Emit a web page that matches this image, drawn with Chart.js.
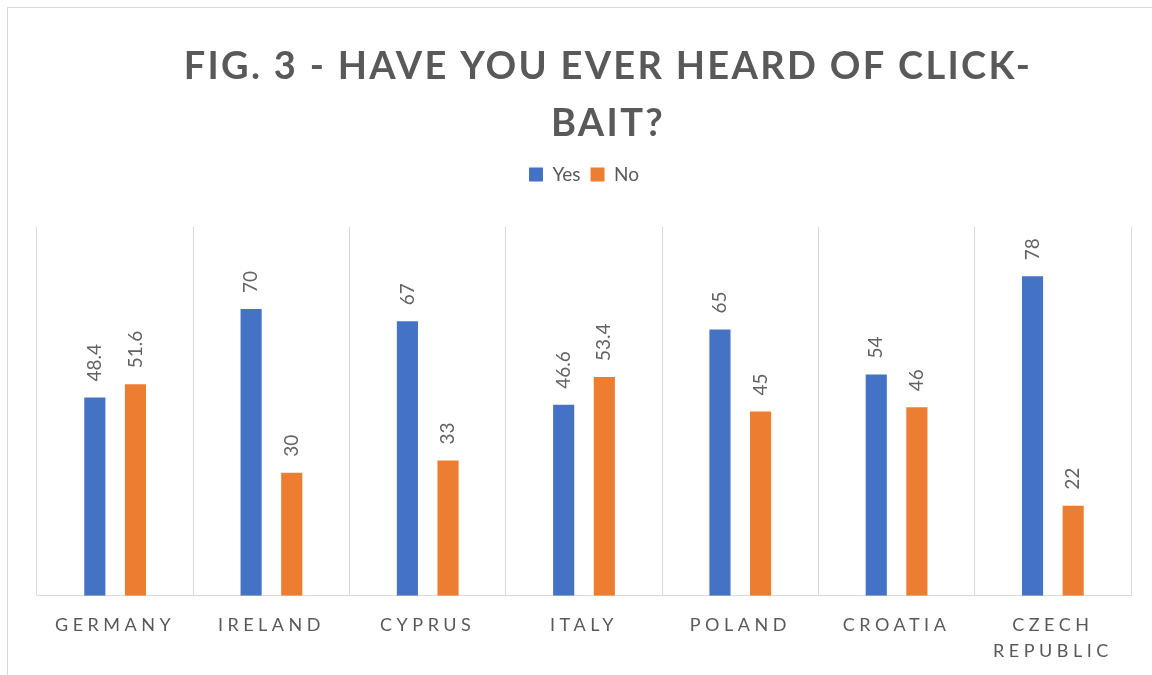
<!DOCTYPE html>
<html>
<head>
<meta charset="utf-8">
<script src="https://cdn.jsdelivr.net/npm/chart.js@4"></script>
<style>
  html, body { margin: 0; padding: 0; background: #fff; overflow: hidden; }
  #frame { position: absolute; left: 7px; top: 7px; width: 1200px; height: 720px; border-top: 1px solid #d9d9d9; border-left: 1px solid #d9d9d9; }
  #wrap { position: absolute; left: 0; top: 0; width: 1152px; height: 675px; }
</style>
</head>
<body>
<div id="frame"></div>
<div id="wrap"><canvas id="chart"></canvas></div>
<script>
// Dados do gráfico
const countries = ['GERMANY', 'IRELAND', 'CYPRUS', 'ITALY', 'POLAND', 'CROATIA', ['CZECH', 'REPUBLIC']];
const yesValues = [48.4, 70, 67, 46.6, 65, 54, 78];
const noValues = [51.6, 30, 33, 53.4, 45, 46, 22];
const titleLines = ['FIG. 3 - HAVE YOU EVER HEARD OF CLICK-', 'BAIT?'];

const textGray = '#595959';
const gridGray = '#d9d9d9';

// Ajustes de desenho: espaçamento entre letras, deslocamento do título e espaço abaixo da legenda
const tweaksPlugin = {
  id: 'tweaks',
  beforeUpdate(chart) {
    const lg = chart.legend;
    if (lg && !lg._tall) {
      const origFit = lg.fit;
      lg.fit = function () {
        origFit.apply(this, arguments);
        this.height += 33;
      };
      lg._tall = true;
    }
  },
  afterLayout(chart) {
    const x = chart.scales.x;
    if (x && !x._spaced) {
      const orig = x.drawLabels;
      x.drawLabels = function (area) {
        const ctx = this.ctx;
        ctx.save();
        ctx.letterSpacing = '4.5px';
        orig.call(this, area);
        ctx.restore();
      };
      x._spaced = true;
    }
    const t = chart.titleBlock;
    if (t && !t._spaced) {
      const origT = t.draw;
      t.draw = function () {
        const ctx = this.ctx;
        ctx.save();
        ctx.translate(24, 0);
        ctx.letterSpacing = '2.3px';
        origT.apply(this, arguments);
        ctx.restore();
      };
      t._spaced = true;
    }
  }
};

// Rótulos de valor girados acima de cada barra
const valueLabels = {
  id: 'valueLabels',
  afterDatasetsDraw(chart) {
    const ctx = chart.ctx;
    ctx.save();
    ctx.font = '19px Lato';
    ctx.fillStyle = '#636363';
    ctx.textAlign = 'left';
    ctx.textBaseline = 'middle';
    chart.data.datasets.forEach((ds, i) => {
      chart.getDatasetMeta(i).data.forEach((bar, j) => {
        ctx.save();
        ctx.translate(bar.x, bar.y - 16);
        ctx.rotate(-Math.PI / 2);
        ctx.fillText(String(ds.data[j]), 0, 0);
        ctx.restore();
      });
    });
    ctx.restore();
  }
};

const ctx = document.getElementById('chart').getContext('2d');
new Chart(ctx, {
  type: 'bar',
  data: {
    labels: countries,
    datasets: [
      { label: 'Yes', data: yesValues, backgroundColor: '#4472C4' },
      { label: 'No', data: noValues, backgroundColor: '#ED7D31' }
    ]
  },
  options: {
    responsive: true,
    maintainAspectRatio: false,
    animation: false,
    categoryPercentage: 0.52,
    barPercentage: 0.52,
    layout: { padding: { left: 37, right: 21, top: 20, bottom: -5 } },
    plugins: {
      tooltip: { enabled: false },
      title: {
        display: true,
        text: titleLines,
        color: textGray,
        font: { family: 'Lato', size: 38, weight: 'bold', lineHeight: 1.5 },
        padding: { top: 18, bottom: 3 }
      },
      legend: {
        display: true,
        position: 'top',
        labels: {
          color: textGray,
          font: { family: 'Lato', size: 19 },
          boxWidth: 14,
          boxHeight: 14,
          padding: 10
        }
      }
    },
    scales: {
      x: {
        grid: { display: true, offset: true, color: gridGray, drawTicks: false },
        border: { display: true, color: gridGray },
        ticks: {
          color: textGray,
          font: { family: 'Lato', size: 18, lineHeight: 1.45 },
          padding: 16,
          autoSkip: false,
          maxRotation: 0
        }
      },
      y: {
        display: false,
        min: 0,
        max: 90
      }
    }
  },
  plugins: [tweaksPlugin, valueLabels]
});
</script>
</body>
</html>
